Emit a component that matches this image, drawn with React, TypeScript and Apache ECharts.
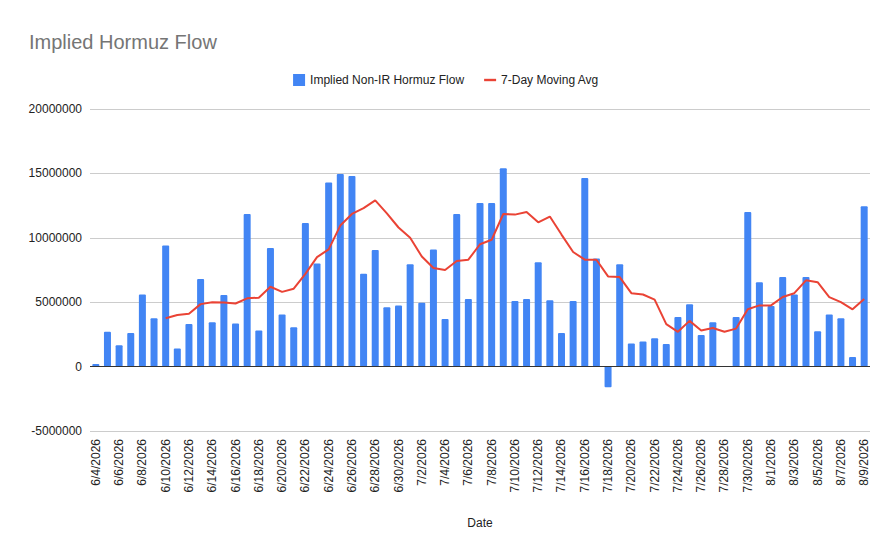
import React, { useEffect, useRef } from 'react';
import * as echarts from 'echarts';

const startDate = new Date(2026, 5, 4);
const dates: string[] = Array.from({ length: 67 }, (_, i) => {
  const d = new Date(startDate.getTime() + i * 86400000);
  return `${d.getMonth() + 1}/${d.getDate()}/${d.getFullYear()}`;
});

const flowValues = [
  0.2, 2.7, 1.65, 2.6, 5.6, 3.75, 9.4, 1.4, 3.3, 6.8, 3.45, 5.55, 3.35, 11.85, 2.8, 9.2, 4.05, 3.05,
  11.15, 8.0, 14.3, 14.95, 14.8, 7.2, 9.05, 4.6, 4.75, 7.95, 4.95, 9.1, 3.7, 11.85, 5.25, 12.7, 12.7,
  15.4, 5.1, 5.25, 8.1, 5.15, 2.6, 5.1, 14.65, 8.4, -1.6, 7.95, 1.8, 1.95, 2.2, 1.75, 3.85, 4.85, 2.45,
  3.45, 0.05, 3.85, 12.0, 6.55, 4.7, 6.95, 5.6, 6.95, 2.75, 4.05, 3.75, 0.75, 12.45,
].map((v) => Math.round(v * 1000000));

const movingAvg = [
  null, null, null, null, null, null, 3.75, 4.0, 4.1, 4.85, 5.0, 4.97, 4.9, 5.3, 5.35, 6.2, 5.8, 6.05,
  7.2, 8.5, 9.1, 10.95, 11.85, 12.3, 12.9, 11.9, 10.8, 10.0, 8.55, 7.65, 7.5, 8.2, 8.3, 9.5, 9.85,
  11.85, 11.8, 12.0, 11.2, 11.65, 10.25, 8.9, 8.3, 8.3, 7.0, 6.95, 5.7, 5.6, 5.2, 3.3, 2.7, 3.55, 2.8,
  3.0, 2.7, 2.95, 4.45, 4.75, 4.75, 5.4, 5.7, 6.7, 6.55, 5.4, 5.0, 4.45, 5.25,
].map((v) => (v === null ? null : Math.round(v * 1000000)));

export default function App() {
  const ref = useRef<HTMLDivElement>(null);

  useEffect(() => {
    if (!ref.current) return;
    const chart = echarts.init(ref.current, undefined, { renderer: 'svg' });
    chart.setOption({
      animation: false,
      backgroundColor: '#fff',
      textStyle: { fontFamily: 'Arial, "Liberation Sans", sans-serif' },
      title: {
        text: 'Implied Hormuz Flow',
        left: 16,
        top: 19,
        textStyle: { color: '#757575', fontSize: 20, fontWeight: 'normal' },
      },
      legend: {
        top: 61,
        left: 'center',
        itemWidth: 12,
        itemHeight: 12,
        itemGap: 20,
        textStyle: { color: '#222', fontSize: 12 },
        data: [
          { name: 'Implied Non-IR Hormuz Flow', icon: 'rect' },
          { name: '7-Day Moving Avg', icon: 'path://M0,5 L10,5 L10,7 L0,7 Z' },
        ],
      },
      grid: { left: 82, right: 14, top: 101, bottom: 113 },
      xAxis: {
        type: 'category',
        data: dates,
        name: 'Date',
        nameLocation: 'middle',
        nameGap: 86,
        nameTextStyle: { color: '#222', fontSize: 12 },
        axisTick: { show: false },
        axisLine: { show: false },
        axisLabel: { rotate: 90, interval: 1, color: '#222', fontSize: 12 },
      },
      yAxis: {
        type: 'value',
        min: -5000000,
        max: 20000000,
        interval: 5000000,
        axisLabel: { color: '#222', fontSize: 12, formatter: (v: number) => String(v) },
        splitLine: { lineStyle: { color: '#ccc' } },
      },
      series: [
        {
          name: 'Implied Non-IR Hormuz Flow',
          type: 'bar',
          data: flowValues,
          barWidth: 7,
          itemStyle: { color: '#4285f4', borderRadius: 1 },
          markLine: {
            silent: true,
            symbol: 'none',
            label: { show: false },
            lineStyle: { color: '#333', type: 'solid', width: 1 },
            data: [{ yAxis: 0 }],
          },
        },
        {
          name: '7-Day Moving Avg',
          type: 'line',
          data: movingAvg,
          showSymbol: false,
          lineStyle: { color: '#ea4335', width: 2 },
          itemStyle: { color: '#ea4335' },
        },
      ],
    });
    return () => chart.dispose();
  }, []);

  return <div ref={ref} style={{ width: 876, height: 536 }} />;
}
